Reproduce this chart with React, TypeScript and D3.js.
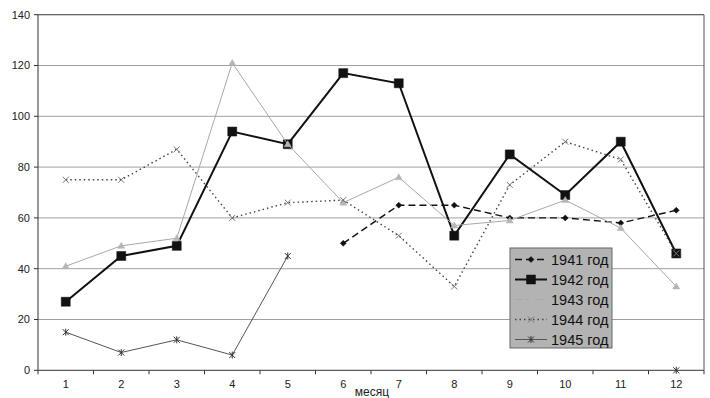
import React from "react";
import * as d3 from "d3";

const months = [1, 2, 3, 4, 5, 6, 7, 8, 9, 10, 11, 12];
const yTicks = [0, 20, 40, 60, 80, 100, 120, 140];

const y1941 = [null, null, null, null, null, 50, 65, 65, 60, 60, 58, 63];
const y1942 = [27, 45, 49, 94, 89, 117, 113, 53, 85, 69, 90, 46];
const y1943 = [41, 49, 52, 121, 89, 66, 76, 57, 59, 67, 56, 33];
const y1944 = [75, 75, 87, 60, 66, 67, 53, 33, 73, 90, 83, 46];
const y1945 = [15, 7, 12, 6, 45, null, null, null, null, null, null, 0];

const seriesNames = ["1941 год", "1942 год", "1943 год", "1944 год", "1945 год"];

type Marker = "diamond" | "square" | "triangle" | "cross" | "star";
type Style = { color: string; width: number; dash: string; marker: Marker; mcolor: string };

const styles: Style[] = [
  { color: "#111", width: 1.4, dash: "7,4", marker: "diamond", mcolor: "#111" },
  { color: "#111", width: 2, dash: "", marker: "square", mcolor: "#111" },
  { color: "#a8a8a8", width: 1, dash: "", marker: "triangle", mcolor: "#b5b5b5" },
  { color: "#444", width: 1.4, dash: "1.5,3", marker: "cross", mcolor: "#777" },
  { color: "#555", width: 1, dash: "", marker: "star", mcolor: "#333" },
];

const left = 38;
const right = 704;
const top = 14.7;
const bottom = 370.3;

function markerPath(m: Marker, x: number, y: number): { d: string; fill: boolean } {
  if (m === "diamond") return { d: `M${x},${y - 3}L${x + 3},${y}L${x},${y + 3}L${x - 3},${y}Z`, fill: true };
  if (m === "square") return { d: `M${x - 4.5},${y - 4.5}h9v9h-9Z`, fill: true };
  if (m === "triangle") return { d: `M${x},${y - 3.5}L${x + 3.5},${y + 2.5}L${x - 3.5},${y + 2.5}Z`, fill: true };
  if (m === "cross") return { d: `M${x - 3},${y - 3}L${x + 3},${y + 3}M${x + 3},${y - 3}L${x - 3},${y + 3}`, fill: false };
  return {
    d: `M${x - 3},${y - 3}L${x + 3},${y + 3}M${x + 3},${y - 3}L${x - 3},${y + 3}M${x},${y - 3.5}L${x},${y + 3.5}`,
    fill: false,
  };
}

export default function App() {
  const x = d3.scaleLinear().domain([0.5, 12.5]).range([left, right]);
  const y = d3.scaleLinear().domain([0, 140]).range([bottom, top]);
  const all = [y1941, y1942, y1943, y1944, y1945];

  const line = d3
    .line<number | null>()
    .defined((d) => d !== null)
    .x((_, i) => x(months[i]))
    .y((d) => y(d as number));

  const font = "'Liberation Sans', Arial, sans-serif";

  return (
    <svg width={710} height={398} style={{ position: "absolute", left: 0, top: 0, background: "#fff" }}>
      {/* grid */}
      {yTicks.map((t) => (
        <g key={t}>
          <line x1={left} x2={right} y1={y(t)} y2={y(t)} stroke={t === 0 ? "#333" : "#a0a0a0"} strokeWidth={1} />
          <line x1={left - 4} x2={left} y1={y(t)} y2={y(t)} stroke="#333" />
          <text x={left - 8} y={y(t)} dy="0.35em" textAnchor="end" fontSize={11} fontFamily={font} fill="#222">
            {t}
          </text>
        </g>
      ))}
      <line x1={left} x2={left} y1={top} y2={bottom} stroke="#333" />
      <line x1={right} x2={right} y1={top} y2={bottom} stroke="#555" />
      <line x1={left} x2={right} y1={top} y2={top} stroke="#555" />
      {months.map((m) => (
        <g key={m}>
          <line x1={x(m + 0.5)} x2={x(m + 0.5)} y1={bottom} y2={bottom + 4} stroke="#333" />
          <text x={x(m)} y={384} dy="0.35em" textAnchor="middle" fontSize={11} fontFamily={font} fill="#222">
            {m}
          </text>
        </g>
      ))}
      <line x1={left} x2={left} y1={bottom} y2={bottom + 4} stroke="#333" />
      <text x={372} y={392} dy="0.35em" textAnchor="middle" fontSize={12} fontFamily={font} fill="#222">
        месяц
      </text>

      {/* series */}
      {all.map((vals, si) => {
        const s = styles[si];
        return (
          <g key={si}>
            <path d={line(vals) ?? ""} fill="none" stroke={s.color} strokeWidth={s.width} strokeDasharray={s.dash} />
            {vals.map((v, i) => {
              if (v === null) return null;
              const mp = markerPath(s.marker, x(months[i]), y(v));
              return (
                <path
                  key={i}
                  d={mp.d}
                  fill={mp.fill ? s.mcolor : "none"}
                  stroke={s.mcolor}
                  strokeWidth={mp.fill ? 0.5 : 1}
                />
              );
            })}
          </g>
        );
      })}

      {/* legend */}
      <rect x={510} y={248} width={102} height={100} fill="#b3b3b3" stroke="#666" strokeWidth={1} />
      {seriesNames.map((name, i) => {
        const s = styles[i];
        const ly = 259.5 + i * 20;
        const mp = markerPath(s.marker, 531, ly);
        return (
          <g key={name}>
            <line
              x1={515}
              x2={547}
              y1={ly}
              y2={ly}
              stroke={s.color}
              strokeWidth={s.width}
              strokeDasharray={i === 2 ? "7,4" : s.dash}
            />
            <path d={mp.d} fill={mp.fill ? s.mcolor : "none"} stroke={s.mcolor} strokeWidth={mp.fill ? 0.5 : 1} />
            <text x={551} y={ly} dy="0.35em" fontSize={14.5} fontFamily={font} fill="#111">
              {name}
            </text>
          </g>
        );
      })}
    </svg>
  );
}
